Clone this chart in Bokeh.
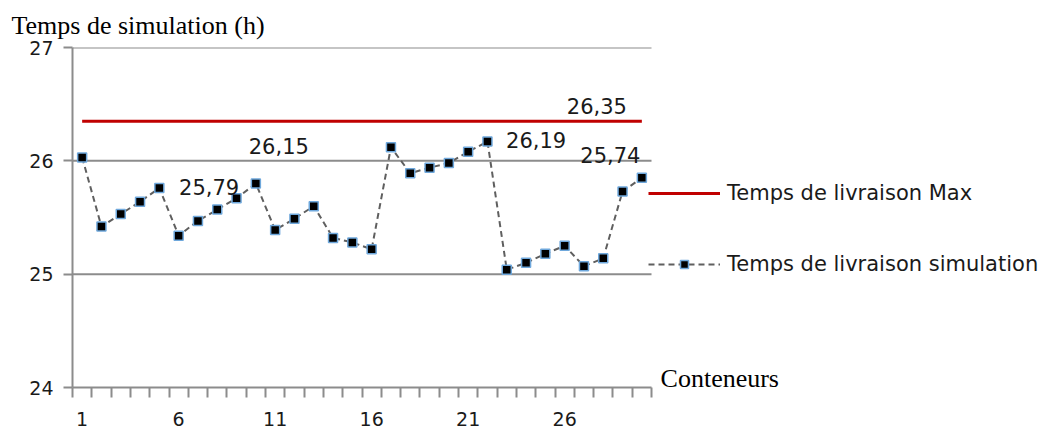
from bokeh.plotting import figure
from bokeh.models import FixedTicker, Range1d, Label, Legend, LegendItem
from bokeh.embed import file_html
from bokeh.resources import INLINE

# ---- data ----
conteneurs = list(range(1, 31))
temps_simulation = [26.03, 25.42, 25.53, 25.64, 25.76, 25.34, 25.47, 25.57, 25.67, 25.80,
                    25.39, 25.49, 25.60, 25.32, 25.28, 25.22, 26.12, 25.89, 25.94, 25.98,
                    26.08, 26.17, 25.04, 25.10, 25.18, 25.25, 25.07, 25.14, 25.73, 25.85]
temps_max = 26.35
x_tick_labels = [1, 6, 11, 16, 21, 26]
y_ticks = [24, 25, 26, 27]
annot_texts = ["25,79", "26,15", "26,19", "25,74", "26,35"]
annot_x = [7.58, 11.19, 24.52, 28.37, 27.67]
annot_y = [25.707, 26.065, 26.118, 25.986, 26.418]

serie_sim = "Temps de livraison simulation"
serie_max = "Temps de livraison Max"

W, H = 1045, 433
LEFT, TOP, BOTTOM = 72, 47, 46
unit_px = 19.3
frame_w = W - LEFT
x_end = 0.5 + frame_w / unit_px
y_px = 340 / 3.0          # pixels per hour on the y axis
text_shift = 7 / y_px     # baseline correction for labels

x_lo = conteneurs[0] - 0.5
x_hi = conteneurs[-1] + 0.5

p = figure(width=W, height=H, output_backend="svg", toolbar_location=None,
           x_range=Range1d(x_lo, x_end), y_range=Range1d(y_ticks[0], y_ticks[-1]),
           min_border_left=LEFT, min_border_right=0,
           min_border_top=TOP, min_border_bottom=BOTTOM)
p.outline_line_color = None
p.background_fill_color = "white"
p.border_fill_color = "white"

# title (top-left, serif)
p.title.text = "Temps de simulation (h)"
p.title.align = "left"
p.title.offset = -61
p.title.standoff = 15
p.title.text_font = "Liberation Serif"
p.title.text_font_size = "26px"
p.title.text_font_style = "normal"
p.title.text_color = "black"

grid_col = "#8c8c8c"
# axes
p.xaxis.bounds = (x_lo, x_hi)
p.xaxis.ticker = FixedTicker(ticks=x_tick_labels,
                             minor_ticks=[c - 0.5 for c in conteneurs] + [x_hi])
p.xaxis.major_tick_out = 0
p.xaxis.major_tick_in = 0
p.xaxis.minor_tick_out = 10
p.xaxis.minor_tick_in = 0
p.xaxis.minor_tick_line_color = grid_col
p.xaxis.minor_tick_line_width = 2
p.xaxis.axis_line_color = grid_col
p.xaxis.axis_line_width = 2
p.xaxis.major_label_standoff = 14
p.xaxis.major_label_text_font = "DejaVu Sans"
p.xaxis.major_label_text_font_size = "19px"
p.xaxis.major_label_text_color = "#1a1a1a"

p.yaxis.ticker = FixedTicker(ticks=y_ticks)
p.yaxis.minor_tick_line_color = None
p.yaxis.major_tick_out = 9
p.yaxis.major_tick_in = 0
p.yaxis.major_tick_line_color = grid_col
p.yaxis.major_tick_line_width = 2
p.yaxis.axis_line_color = grid_col
p.yaxis.axis_line_width = 2
p.yaxis.major_label_standoff = 10
p.yaxis.major_label_text_align = "right"
p.yaxis.major_label_text_font = "DejaVu Sans"
p.yaxis.major_label_text_font_size = "19px"
p.yaxis.major_label_text_color = "#1a1a1a"

# horizontal gridlines limited to the category span
p.xgrid.grid_line_color = None
p.ygrid.grid_line_color = None
g = y_ticks[1:]
p.segment(x0=[x_lo] * len(g), x1=[x_hi] * len(g), y0=g, y1=g,
          line_color=grid_col, line_width=2, level="underlay")

# series
r_max = p.line(conteneurs, [temps_max] * len(conteneurs), line_color="#C00000", line_width=3)
r_sim_line = p.line(conteneurs, temps_simulation, line_color="#5f5f5f", line_width=2,
                    line_dash="6 4")
r_sim_pts = p.scatter(conteneurs, temps_simulation, marker="square", size=9,
                      fill_color="black", line_color="#6fa8dc", line_width=1.5)

# data labels
for t, x, y in zip(annot_texts, annot_x, annot_y):
    p.add_layout(Label(x=x, y=y + text_shift, text=t, text_align="center",
                       text_baseline="alphabetic", text_font="DejaVu Sans",
                       text_font_size="21px", text_color="#1a1a1a"))

# x axis title at the right end of the axis
p.add_layout(Label(x=30.97, y=y_ticks[0] + text_shift + 2 / y_px, text="Conteneurs",
                   text_align="left", text_baseline="alphabetic",
                   text_font="Liberation Serif", text_font_size="26px", text_color="black"))

legend = Legend(items=[LegendItem(label=serie_max, renderers=[r_max]),
                       LegendItem(label=serie_sim, renderers=[r_sim_line, r_sim_pts])],
                location=(576, 111), glyph_width=72, glyph_height=20, label_height=20,
                spacing=47, padding=0, margin=0, label_standoff=7,
                label_text_font="DejaVu Sans", label_text_font_size="21px",
                label_text_color="#1a1a1a", border_line_alpha=0, background_fill_alpha=0)
p.add_layout(legend)

open("out.html", "w").write(file_html(p, INLINE))
